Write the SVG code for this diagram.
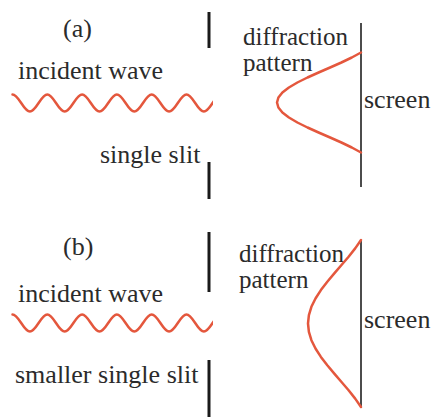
<svg xmlns="http://www.w3.org/2000/svg" width="432" height="417" viewBox="0 0 432 417">
<style>
text{font-family:'Liberation Serif','Times New Roman',Times,serif;font-size:26px;fill:#2b2b2b}
text.pat{font-size:25px}
.slit{stroke:#1a1a1a;stroke-width:3;fill:none}
.screen{stroke:#111;stroke-width:1.5;fill:none}
.red{stroke:#e4573d;stroke-width:2.5;fill:none;stroke-linejoin:round;stroke-linecap:round}
</style>
<defs>
<clipPath id="wclip"><rect x="0" y="0" width="213" height="417"/></clipPath>
<path id="wave" d="M12.5,94.5 c6.32,0 11.08,17 17.4,17 c6.32,0 11.08,-17 17.4,-17 c6.32,0 11.08,17 17.4,17 c6.32,0 11.08,-17 17.4,-17 c6.32,0 11.08,17 17.4,17 c6.32,0 11.08,-17 17.4,-17 c6.32,0 11.08,17 17.4,17 c6.32,0 11.08,-17 17.4,-17 c6.32,0 11.08,17 17.4,17 c6.32,0 11.08,-17 17.4,-17 c6.32,0 11.08,17 17.4,17 c6.32,0 11.08,-17 17.4,-17"/>
</defs>
<g id="panel-a">
<g id="label-a"><text x="63" y="37">(a)</text></g>
<g id="slit-a"><line class="slit" x1="209" y1="12" x2="209" y2="48"/><line class="slit" x1="209" y1="162" x2="209" y2="199"/></g>
<g id="incident-a"><text x="18" y="79">incident wave</text><use href="#wave" class="red" clip-path="url(#wclip)"/></g>
<g id="slitlabel-a"><text x="100" y="163">single slit</text></g>
<g id="screen-a"><line class="screen" x1="361" y1="23" x2="361" y2="187"/><text x="364" y="108">screen</text></g>
<g id="pattern-a"><text class="pat" x="243" y="45">diffraction</text><text class="pat" x="243" y="71">pattern</text>
<polyline class="red" points="361,52.5 351.8,57.5 341.4,62.5 330.1,67.5 318.6,72.5 307.5,77.5 297.4,82.5 288.9,87.5 282.4,92.5 278.4,97.5 277,102.5 278.4,107.5 282.4,112.5 288.9,117.5 297.4,122.5 307.5,127.5 318.6,132.5 330.1,137.5 341.4,142.5 351.8,147.5 361,152.5"/></g>
</g>
<g id="panel-b">
<g id="label-b"><text x="63" y="255">(b)</text></g>
<g id="slit-b"><line class="slit" x1="209" y1="232" x2="209" y2="292"/><line class="slit" x1="209" y1="360" x2="209" y2="417"/></g>
<g id="incident-b"><text x="18" y="302">incident wave</text><g transform="translate(0,220)"><use href="#wave" class="red" clip-path="url(#wclip)"/></g></g>
<g id="slitlabel-b"><text x="15" y="383">smaller single slit</text></g>
<g id="screen-b"><line class="screen" x1="361" y1="240" x2="361" y2="408"/><text x="364" y="328">screen</text></g>
<g id="pattern-b"><text class="pat" x="239" y="262">diffraction</text><text class="pat" x="239" y="288">pattern</text>
<polyline class="red" points="361,240 355.2,248.35 348.6,256.7 341.5,265.05 334.3,273.4 327.3,281.75 320.9,290.1 315.5,298.45 311.4,306.8 308.9,315.15 308,323.5 308.9,331.85 311.4,340.2 315.5,348.55 320.9,356.9 327.3,365.25 334.3,373.6 341.5,381.95 348.6,390.3 355.2,398.65 361,407"/></g>
</g>
</svg>
